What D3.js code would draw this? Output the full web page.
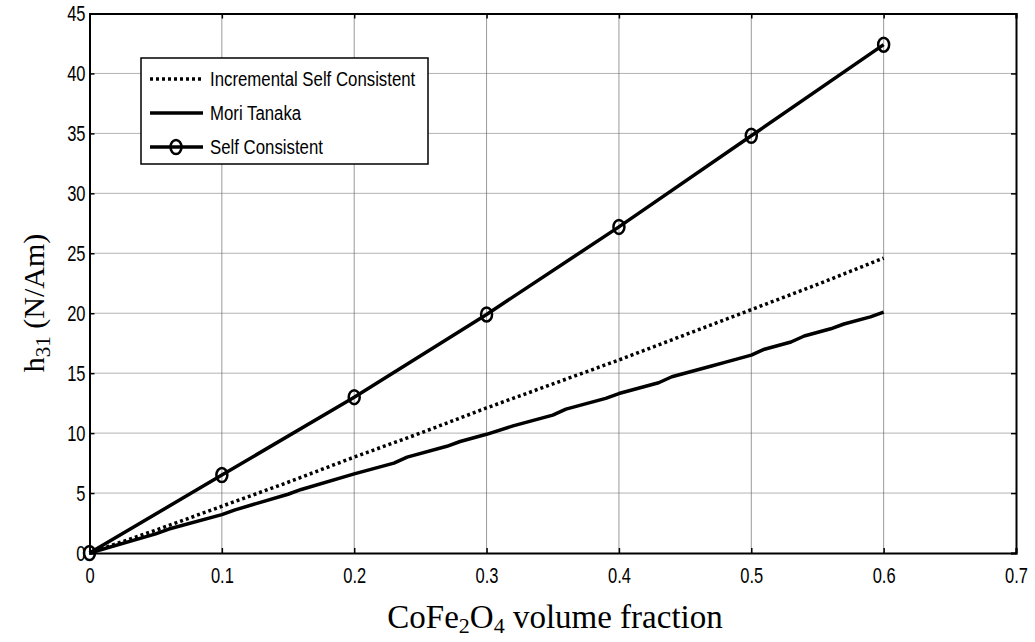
<!DOCTYPE html>
<html>
<head>
<meta charset="utf-8">
<script src="https://cdn.jsdelivr.net/npm/d3@7"></script>
<style>
  body { margin: 0; background: #fff; }
  svg { display: block; }
</style>
</head>
<body>
<div id="chart"></div>
<script>
// volume fractions
var scX = [0, 0.1, 0.2, 0.3, 0.4, 0.5, 0.6];
var scY = [0, 6.5, 13.0, 19.9, 27.2, 34.8, 42.4];

var iscX = [0, 0.05, 0.1, 0.15, 0.2, 0.25, 0.3, 0.35, 0.4, 0.45, 0.5, 0.55, 0.6];
var iscY = [0, 1.9, 3.9, 5.9, 8.0, 10.0, 12.1, 14.1, 16.1, 18.2, 20.3, 22.4, 24.6];

var mtX = [0, 0.05, 0.06, 0.1, 0.11, 0.15, 0.16, 0.2, 0.23, 0.24, 0.27, 0.28, 0.3, 0.32,
           0.35, 0.36, 0.39, 0.4, 0.43, 0.44, 0.47, 0.48, 0.5, 0.51, 0.53, 0.54, 0.56, 0.57, 0.59, 0.6];
var mtY = [0, 1.6, 2.0, 3.2, 3.6, 4.9, 5.3, 6.6, 7.5, 8.0, 8.9, 9.3, 9.9, 10.6,
           11.5, 12.0, 12.9, 13.3, 14.2, 14.7, 15.6, 15.9, 16.5, 17.0, 17.6, 18.1, 18.7, 19.1, 19.7, 20.1];

var xTicks = [0, 0.1, 0.2, 0.3, 0.4, 0.5, 0.6, 0.7];
var yTicks = [0, 5, 10, 15, 20, 25, 30, 35, 40, 45];
var legendNames = ["Incremental Self Consistent", "Mori Tanaka", "Self Consistent"];

var svgWidth = 1035, svgHeight = 642;
var margin = { top: 13.5, right: 19, bottom: 89, left: 89.5 };
var chartWidth = svgWidth - margin.left - margin.right;
var chartHeight = svgHeight - margin.top - margin.bottom;

var svg = d3.select("#chart").append("svg")
    .attr("width", svgWidth)
    .attr("height", svgHeight);

svg.append("rect").attr("width", svgWidth).attr("height", svgHeight).attr("fill", "#fff");

var chartGroup = svg.append("g")
    .attr("transform", `translate(${margin.left}, ${margin.top})`);

var xScale = d3.scaleLinear().domain([0, 0.7]).range([0, chartWidth]);
var yScale = d3.scaleLinear().domain([0, 45]).range([chartHeight, 0]);

// grid
chartGroup.append("g").selectAll("line")
    .data(xTicks.slice(1, -1))
    .enter().append("line")
    .attr("x1", d => xScale(d)).attr("x2", d => xScale(d))
    .attr("y1", 0).attr("y2", chartHeight)
    .attr("stroke", "#9a9a9a").attr("stroke-width", 1);

chartGroup.append("g").selectAll("line")
    .data(yTicks.slice(1, -1))
    .enter().append("line")
    .attr("x1", 0).attr("x2", chartWidth)
    .attr("y1", d => yScale(d)).attr("y2", d => yScale(d))
    .attr("stroke", "#666").attr("stroke-width", 1)
    .attr("stroke-dasharray", "1,1");

// axes with inward ticks
var tickFont = "'Liberation Sans', Arial, sans-serif";

var xAxis = d3.axisBottom(xScale).tickValues(xTicks).tickSize(-5).tickPadding(14)
    .tickFormat(d => d === 0 ? "0" : d3.format(".1f")(d));
var yAxis = d3.axisLeft(yScale).tickValues(yTicks).tickSize(-5)
    .tickFormat(d3.format("d"));

var gx = chartGroup.append("g")
    .attr("transform", `translate(0, ${chartHeight})`)
    .call(xAxis);
var gy = chartGroup.append("g").call(yAxis);

chartGroup.append("g").call(d3.axisTop(xScale).tickValues(xTicks).tickSize(-5).tickFormat(""));
chartGroup.append("g").attr("transform", `translate(${chartWidth}, 0)`)
    .call(d3.axisRight(yScale).tickValues(yTicks).tickSize(-5).tickFormat(""));

chartGroup.selectAll(".domain").attr("stroke", "#000").attr("stroke-width", 2);
chartGroup.selectAll(".tick line").attr("stroke", "#000").attr("stroke-width", 1.5);

// condense tick labels horizontally (the source font is narrow)
var squeezeX = 0.75;
gx.selectAll("text")
    .attr("font-family", tickFont).attr("font-size", 22).attr("fill", "#000")
    .attr("dy", "0.71em")
    .each(function() {
        var bb = this.getBBox();
        var cx = bb.x + bb.width / 2;
        d3.select(this).attr("transform", `translate(${cx * (1 - squeezeX)},0) scale(${squeezeX},1)`);
    });

gy.selectAll("text")
    .attr("font-family", tickFont).attr("font-size", 22).attr("fill", "#000")
    .attr("transform", `scale(${squeezeX},1)`)
    .attr("x", -4 / squeezeX);

// lines
var line = d3.line().x(d => xScale(d[0])).y(d => yScale(d[1]));

chartGroup.append("path")
    .datum(d3.zip(iscX, iscY))
    .attr("d", line)
    .attr("fill", "none").attr("stroke", "#000").attr("stroke-width", 3.5)
    .attr("stroke-dasharray", "3,3");

chartGroup.append("path")
    .datum(d3.zip(mtX, mtY))
    .attr("d", line)
    .attr("fill", "none").attr("stroke", "#000").attr("stroke-width", 3.5)
    .attr("stroke-linejoin", "round");

chartGroup.append("path")
    .datum(d3.zip(scX, scY))
    .attr("d", line)
    .attr("fill", "none").attr("stroke", "#000").attr("stroke-width", 3.5);

chartGroup.selectAll("ellipse.sc")
    .data(d3.zip(scX, scY))
    .enter().append("ellipse")
    .attr("class", "sc")
    .attr("cx", d => xScale(d[0])).attr("cy", d => yScale(d[1]))
    .attr("rx", 5.5).attr("ry", 7)
    .attr("fill", "none").attr("stroke", "#000").attr("stroke-width", 2.5);

// legend
var legend = svg.append("g").attr("transform", "translate(141, 58)");
legend.append("rect")
    .attr("width", 287).attr("height", 106)
    .attr("fill", "#fff").attr("stroke", "#000").attr("stroke-width", 1.5);

var rowY = [21, 55, 89];
var rows = legend.selectAll("g.row")
    .data(legendNames)
    .enter().append("g")
    .attr("transform", (d, i) => `translate(0, ${rowY[i]})`);

rows.append("line")
    .attr("x1", 9).attr("x2", 62).attr("y1", 0).attr("y2", 0)
    .attr("stroke", "#000").attr("stroke-width", 3.5)
    .attr("stroke-dasharray", (d, i) => i === 0 ? "3,3" : null);

rows.filter((d, i) => i === 2).append("ellipse")
    .attr("cx", 35).attr("cy", 0).attr("rx", 5.5).attr("ry", 7)
    .attr("fill", "none").attr("stroke", "#000").attr("stroke-width", 2.5);

rows.append("text")
    .attr("transform", "translate(69, 0) scale(0.8,1)")
    .attr("dy", "0.35em")
    .attr("font-family", tickFont).attr("font-size", 21)
    .text(d => d);

// axis titles
var serif = "'Liberation Serif', 'Times New Roman', serif";
var yTitle = svg.append("text")
    .attr("transform", "translate(44, 303) rotate(-90)")
    .attr("text-anchor", "middle")
    .attr("font-family", serif).attr("font-size", 30);
yTitle.append("tspan").text("h");
yTitle.append("tspan").attr("font-size", 21).attr("dy", 6).text("31");
yTitle.append("tspan").attr("dy", -6).text(" (N/Am)");

var xTitle = svg.append("text")
    .attr("x", 555).attr("y", 628)
    .attr("text-anchor", "middle")
    .attr("font-family", serif).attr("font-size", 33);
xTitle.append("tspan").text("CoFe");
xTitle.append("tspan").attr("font-size", 22).attr("dy", 5).text("2");
xTitle.append("tspan").attr("dy", -5).text("O");
xTitle.append("tspan").attr("font-size", 22).attr("dy", 5).text("4");
xTitle.append("tspan").attr("dy", -5).text(" volume fraction");
</script>
</body>
</html>
